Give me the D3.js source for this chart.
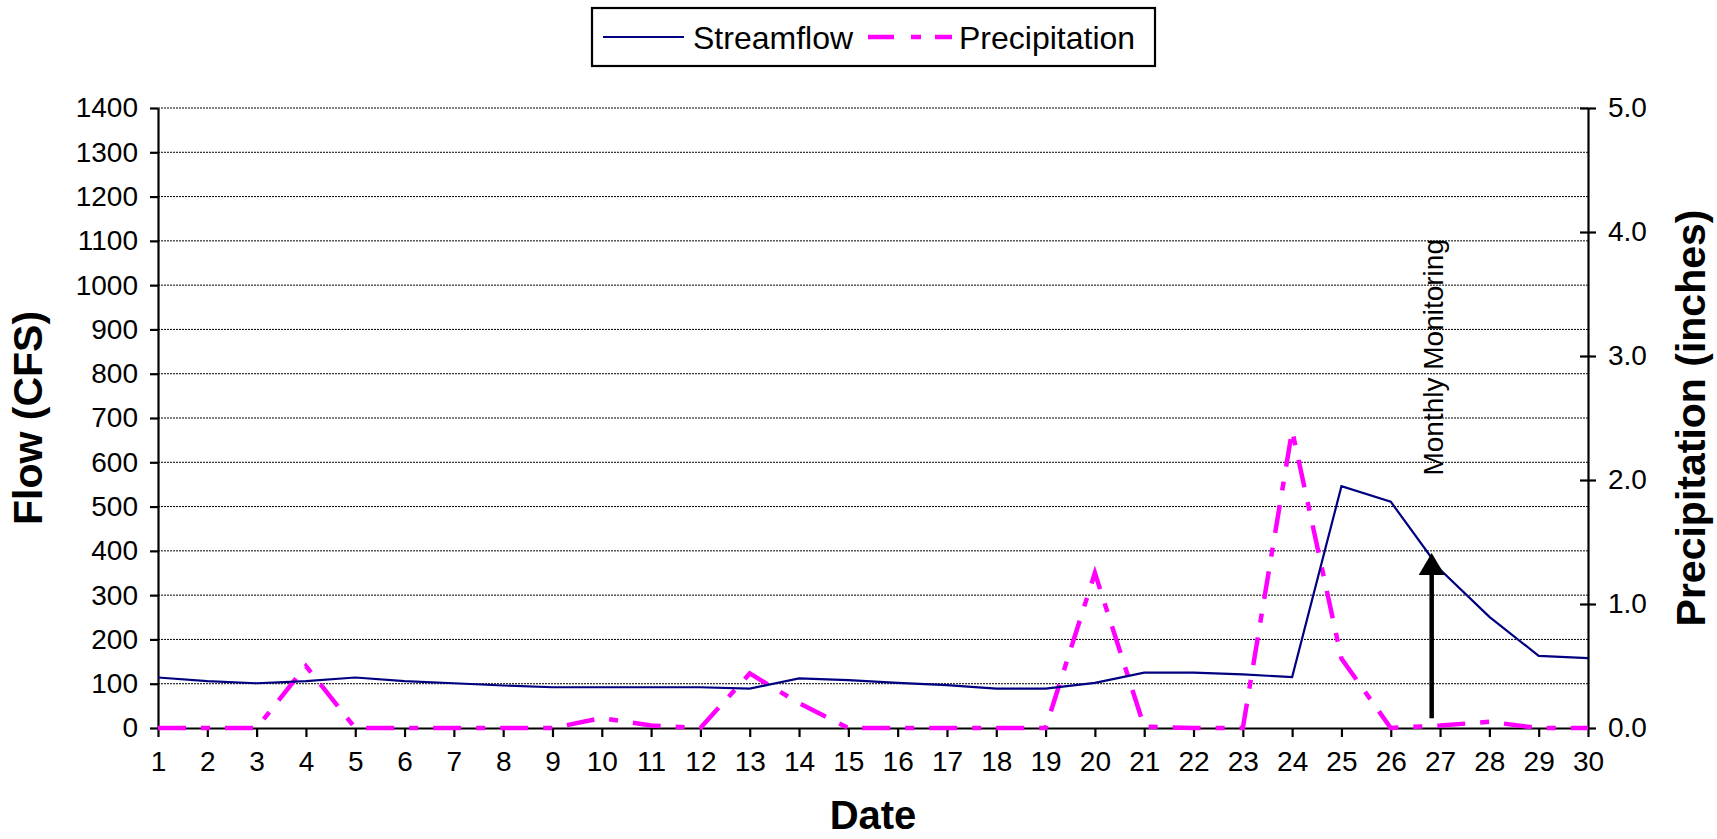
<!DOCTYPE html>
<html>
<head>
<meta charset="utf-8">
<script src="https://cdn.jsdelivr.net/npm/d3@7"></script>
<style>
  html, body { margin: 0; padding: 0; background: #fff; }
  svg { display: block; font-family: Arial, "Liberation Sans", sans-serif; }
</style>
</head>
<body>
<svg id="chart" width="1717" height="839"></svg>
<script>
// ---- data ----
const days = [1,2,3,4,5,6,7,8,9,10,11,12,13,14,15,16,17,18,19,20,21,22,23,24,25,26,27,28,29,30];
const streamflow = [114,106,101,106,114,106,101,96,92,92,92,92,89,112,108,102,97,89,89,102,125,125,121,115,546,511,358,251,163,158];
const precipitation = [0,0,0,0.5,0,0,0,0,0,0.08,0.02,0,0.44,0.2,0,0,0,0,0,1.25,0.01,0,0,2.4,0.56,0,0.02,0.05,0,0];
const flowTicks = [0,100,200,300,400,500,600,700,800,900,1000,1100,1200,1300,1400];
const precipTicks = [0,1,2,3,4,5];
const seriesNames = ["Streamflow","Precipitation"];
const annotationText = "Monthly Monitoring";
const annotationDay = 26.83;       // x position of arrow (in day units)
const annotationFlow = [22, 395];  // arrow from / to (in flow units)
const annotationTextFlow = 570;    // where the rotated label starts (flow units)

// ---- layout ----
const svg = d3.select("#chart");
const L = 158, R = 1588, T = 108, B = 728;
const FONT = "Arial, 'Liberation Sans', sans-serif";

const x = d3.scaleLinear().domain([1,30]).range([L,R]);
const yF = d3.scaleLinear().domain([0,1400]).range([B,T]);
const yP = d3.scaleLinear().domain([0,5]).range([B,T]);

// gridlines
svg.append("g").selectAll("line").data(flowTicks.filter(d => d > 0)).join("line")
  .attr("x1", L).attr("x2", R)
  .attr("y1", d => yF(d)).attr("y2", d => yF(d))
  .attr("stroke", "#000").attr("stroke-width", 1).attr("stroke-dasharray", "2,1");

// left axis
const gL = svg.append("g").attr("transform", `translate(${L},0)`)
  .call(d3.axisLeft(yF).tickValues(flowTicks).tickFormat(d3.format("d")).tickSize(8).tickPadding(12).tickSizeOuter(0));
gL.select(".domain").attr("stroke-width", 2.2);
gL.selectAll(".tick line").attr("stroke-width", 2.2);
gL.selectAll("text").attr("font-size", 28).attr("font-family", FONT).attr("fill", "#000");

// right axis
const gR = svg.append("g").attr("transform", `translate(${R},0)`)
  .call(d3.axisRight(yP).tickValues(precipTicks).tickFormat(d3.format(".1f")).tickSize(8).tickPadding(12).tickSizeOuter(0));
gR.select(".domain").attr("stroke-width", 2.2);
gR.selectAll(".tick line").attr("stroke-width", 2.2).attr("x1", -8);
gR.selectAll("text").attr("font-size", 28).attr("font-family", FONT).attr("fill", "#000");

// bottom axis
const gB = svg.append("g").attr("transform", `translate(0,${B})`)
  .call(d3.axisBottom(x).tickValues(days).tickFormat(d3.format("d")).tickSize(9).tickPadding(14).tickSizeOuter(0));
gB.select(".domain").attr("stroke-width", 2.2);
gB.selectAll(".tick line").attr("stroke-width", 2.2);
gB.selectAll("text").attr("font-size", 28).attr("font-family", FONT).attr("fill", "#000");

// precipitation line
const precipPath = d3.line().x((d,i) => x(days[i])).y(d => yP(d));
svg.append("path").datum(precipitation)
  .attr("d", precipPath)
  .attr("fill", "none").attr("stroke", "#FF00FF").attr("stroke-width", 4.5)
  .attr("stroke-dasharray", "28,15,9,15").attr("stroke-linejoin", "miter");

// streamflow line
const flowPath = d3.line().x((d,i) => x(days[i])).y(d => yF(d));
svg.append("path").datum(streamflow)
  .attr("d", flowPath)
  .attr("fill", "none").attr("stroke", "#000080").attr("stroke-width", 2.2);

// annotation arrow
const ax = x(annotationDay);
const y0 = yF(annotationFlow[0]), y1 = yF(annotationFlow[1]);
svg.append("line").attr("x1", ax).attr("x2", ax).attr("y1", y0).attr("y2", y1 + 18)
  .attr("stroke", "#000").attr("stroke-width", 4.5);
svg.append("path")
  .attr("d", `M${ax},${y1} L${ax-13},${y1+22} L${ax+13},${y1+22} Z`)
  .attr("fill", "#000");
svg.append("text")
  .attr("transform", `translate(${ax+11},${yF(annotationTextFlow)}) rotate(-90)`)
  .attr("font-size", 28).attr("font-family", FONT).attr("fill", "#000")
  .text(annotationText);

// axis titles
svg.append("text")
  .attr("transform", `translate(42,${(T+B)/2}) rotate(-90)`)
  .attr("text-anchor", "middle").attr("font-size", 41).attr("font-weight", "bold")
  .text("Flow (CFS)");
svg.append("text")
  .attr("transform", `translate(1705,${(T+B)/2}) rotate(-90)`)
  .attr("text-anchor", "middle").attr("font-size", 41).attr("font-weight", "bold")
  .text("Precipitation (inches)");
svg.append("text")
  .attr("x", (L+R)/2).attr("y", 829)
  .attr("text-anchor", "middle").attr("font-size", 40).attr("font-weight", "bold")
  .text("Date");

// legend
const lg = svg.append("g");
lg.append("rect").attr("x", 592).attr("y", 8).attr("width", 563).attr("height", 58)
  .attr("fill", "#fff").attr("stroke", "#000").attr("stroke-width", 2.2);
lg.append("line").attr("x1", 603).attr("x2", 684).attr("y1", 37).attr("y2", 37)
  .attr("stroke", "#000080").attr("stroke-width", 2.2);
lg.append("text").attr("x", 693).attr("y", 49).attr("font-size", 32).text(seriesNames[0]);
lg.append("line").attr("x1", 868).attr("x2", 952).attr("y1", 37).attr("y2", 37)
  .attr("stroke", "#FF00FF").attr("stroke-width", 4.5).attr("stroke-dasharray", "26,17,10,14,20");
lg.append("text").attr("x", 959).attr("y", 49).attr("font-size", 32).text(seriesNames[1]);
</script>
</body>
</html>
